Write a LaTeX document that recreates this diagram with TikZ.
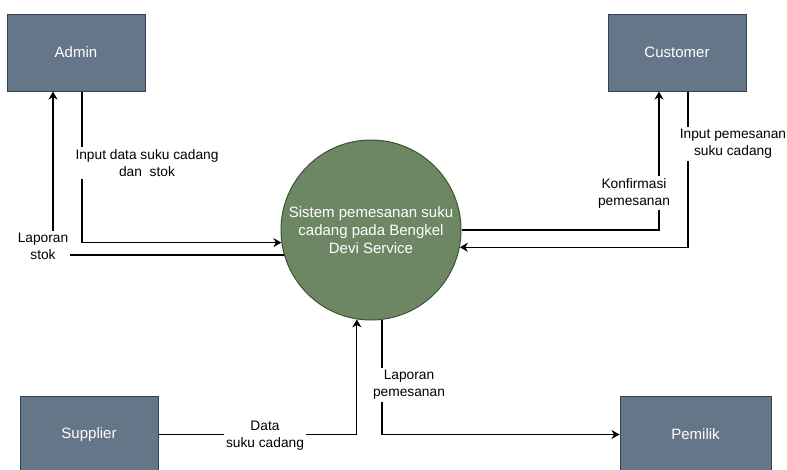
\documentclass[tikz,border=0pt]{standalone}
\usepackage{fontspec}
\setmainfont{Liberation Sans}
\usetikzlibrary{arrows.meta}
\definecolor{boxfill}{HTML}{647687}
\definecolor{boxline}{HTML}{314354}
\definecolor{circfill}{HTML}{6D8764}
\definecolor{circline}{HTML}{3A5431}
\begin{document}
\begin{tikzpicture}[x=1pt,y=-1pt,
  entity/.style={draw=boxline, fill=boxfill, line width=1pt, minimum width=138pt, minimum height=77pt, inner sep=0pt, text=white, font=\fontsize{15}{18}\selectfont},
  proc/.style={circle, draw=circline, fill=circfill, line width=1pt, minimum size=180pt, inner sep=0pt, text=white, align=center, font=\fontsize{15}{18}\selectfont},
  flow/.style={draw=black, line width=1.2pt, -{Stealth[length=8pt,width=9pt,inset=2.5pt]}},
  lbl/.style={fill=white, align=center, inner sep=2pt, font=\fontsize{13.75}{17}\selectfont, text=black}]
\clip (0,0) rectangle (787,469);
\fill[white] (0,0) rectangle (787,469);
% entities
\node[entity] (admin) at (76,52.5) {Admin};
\node[entity] (customer) at (677,52.5) {Customer};
\node[entity] (supplier) at (89,434.5) {Supplier};
\node[entity, minimum width=151pt] (pemilik) at (695.5,434.5) {Pemilik};
\node[proc] (sys) at (371,230) {Sistem pemesanan suku\\cadang pada Bengkel\\Devi Service};
% helper coordinates
\coordinate (ax) at (82,0);
\coordinate (lx) at (53,0);
\coordinate (kx) at (659,0);
\coordinate (ix) at (688,0);
% flows
\draw[flow] (admin.south -| ax) |- (sys.188.3);
\draw[flow] (sys.196.8) -| (admin.south -| lx);
\draw[flow] (sys.0) -| (customer.south -| kx);
\draw[flow] (customer.south -| ix) |- (sys.349.1);
\draw[flow] (supplier.east) -| (sys.261.7);
\draw[flow] (sys.277.7) |- (pemilik.west);
% labels
\node[lbl] (l1) at (147,163) {Input data suku cadang\\dan\ \ stok};
\node[lbl] (l2) at (43,246) {Laporan\\stok};
\node[lbl] (l3) at (634,193) {Konfirmasi\\pemesanan};
\node[lbl] (l4) at (733,144) {Input pemesanan\\suku cadang};
\node[lbl] (l5) at (265,436) {Data\\suku cadang};
\node[lbl] (l6) at (409,385) {Laporan\\pemesanan};
\end{tikzpicture}
\end{document}
